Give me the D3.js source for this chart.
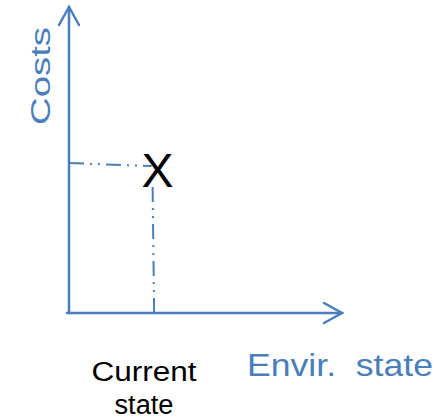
<!DOCTYPE html>
<html><head><meta charset="utf-8">
<script src="https://cdn.jsdelivr.net/npm/d3@7"></script>
<style>html,body{margin:0;padding:0;background:#fff;}svg{display:block;}</style>
</head><body>
<svg id="c" width="445" height="419"></svg>
<script>
// Data
const xAxisLabel = ["Envir.  state"];
const yAxisLabel = ["Costs"];
const pointLabel = ["X"];
const pointEnv = [0.31];
const pointCost = [0.49];
const stateLabelLines = ["Current", "state"];

const blue = "#4a7ebb";
const svg = d3.select("#c");
const x = d3.scaleLinear().domain([0, 1]).range([69, 342]);
const y = d3.scaleLinear().domain([0, 1]).range([313, 7]);
const font = "Liberation Sans, Arial, sans-serif";

// guide lines (dash-dot-dot)
const dash = "15,6,2,6,2,6";
pointEnv.forEach((pe, i) => {
  const pc = pointCost[i];
  svg.append("line").attr("x1", x(0)).attr("y1", y(pc)).attr("x2", x(pe) - 2).attr("y2", y(pc) + 3)
    .attr("stroke", blue).attr("stroke-width", 2).attr("stroke-dasharray", dash);
  svg.append("line").attr("x1", x(pe) + 0.5).attr("y1", y(0)).attr("x2", x(pe) - 1).attr("y2", y(pc) + 24)
    .attr("stroke", blue).attr("stroke-width", 2).attr("stroke-dasharray", dash);
});

// axes
const sw = 2.5;
svg.append("line").attr("x1", x(0) - 2).attr("y1", y(0)).attr("x2", x(1)).attr("y2", y(0))
  .attr("stroke", blue).attr("stroke-width", sw).attr("stroke-linecap", "round");
svg.append("line").attr("x1", x(0)).attr("y1", y(0)).attr("x2", x(0)).attr("y2", y(1))
  .attr("stroke", blue).attr("stroke-width", sw).attr("stroke-linecap", "round");
// arrowheads
svg.append("path").attr("d", d3.line()([[x(1) - 18, y(0) - 10], [x(1), y(0)], [x(1) - 18, y(0) + 10]]))
  .attr("fill", "none").attr("stroke", blue).attr("stroke-width", sw).attr("stroke-linecap", "round").attr("stroke-linejoin", "miter");
svg.append("path").attr("d", d3.line()([[x(0) - 10, y(1) + 18], [x(0), y(1)], [x(0) + 10, y(1) + 18]]))
  .attr("fill", "none").attr("stroke", blue).attr("stroke-width", sw).attr("stroke-linecap", "round").attr("stroke-linejoin", "miter");

// point marker
pointEnv.forEach((pe, i) => {
  svg.append("text").attr("x", x(pe) + 4).attr("y", y(pointCost[i]) + 24)
    .attr("text-anchor", "middle").attr("font-family", font).attr("font-size", 48)
    .attr("fill", "#000").text(pointLabel[i]);
});

// axis labels
svg.append("text").attr("transform", "translate(50,76) rotate(-90)")
  .attr("text-anchor", "middle").attr("font-family", font).attr("font-size", 27)
  .attr("fill", blue).attr("textLength", 98).attr("lengthAdjust", "spacingAndGlyphs").text(yAxisLabel[0]);
svg.append("text").attr("x", 247).attr("y", 376).attr("font-family", font).attr("font-size", 32)
  .attr("fill", blue).attr("xml:space", "preserve").style("white-space", "pre")
  .attr("textLength", 186).attr("lengthAdjust", "spacingAndGlyphs").text(xAxisLabel[0]);

// current state label
const stateW = [105, 59];
const stateY = [381, 414];
stateLabelLines.forEach((t, i) => {
  svg.append("text").attr("x", 144).attr("y", stateY[i])
    .attr("text-anchor", "middle").attr("font-family", font).attr("font-size", 27)
    .attr("textLength", stateW[i]).attr("lengthAdjust", "spacingAndGlyphs")
    .attr("fill", "#000").text(t);
});
</script>
</body></html>
